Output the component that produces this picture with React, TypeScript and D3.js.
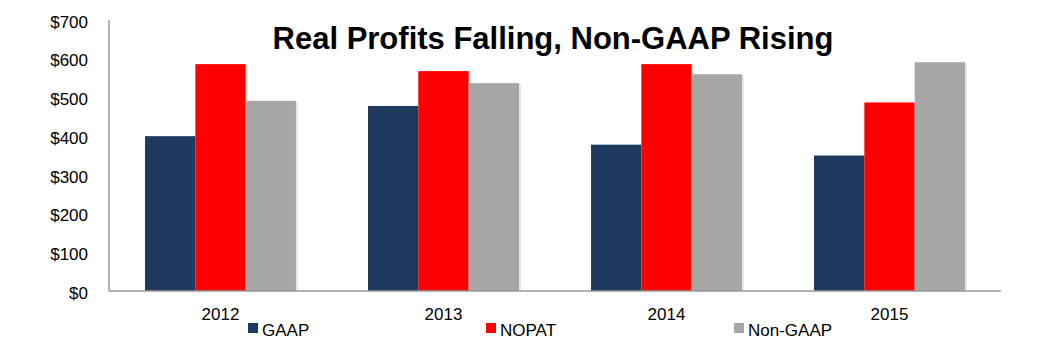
import React, { useRef, useEffect } from "react";
import * as d3 from "d3";

const years = ["2012", "2013", "2014", "2015"];
const seriesNames = ["GAAP", "NOPAT", "Non-GAAP"];
const gaap = [400, 478, 378, 350];
const nopat = [586, 568, 586, 487];
const nonGaap = [491, 537, 560, 591];
const yTicks = [0, 100, 200, 300, 400, 500, 600, 700];

const colors = ["#1F3A5F", "#FF0000", "#A6A6A6"];

const App = () => {
  const chartRef = useRef<SVGSVGElement | null>(null);

  useEffect(() => {
    const width = 1041;
    const height = 353;
    const margin = { top: 20, right: 40, bottom: 62, left: 109 };
    const font = "Liberation Sans, Arial, sans-serif";

    const svg = d3.select(chartRef.current);
    svg.selectAll("*").remove();

    const data = years.map((y, i) => ({
      year: y,
      values: [gaap[i], nopat[i], nonGaap[i]],
    }));

    const x0 = d3
      .scaleBand()
      .domain(years)
      .range([margin.left, width - margin.right])
      .paddingInner(0.323)
      .paddingOuter(0.1615);
    // bars in a group touch each other
    const x1 = d3
      .scaleBand()
      .domain(seriesNames)
      .range([0, x0.bandwidth()]);
    const y = d3
      .scaleLinear()
      .domain([0, 700])
      .range([height - margin.bottom, margin.top]);

    // y tick labels
    svg
      .selectAll(".ytick")
      .data(yTicks)
      .enter()
      .append("text")
      .attr("class", "ytick")
      .attr("x", 88)
      .attr("y", (d) => y(d))
      .attr("dy", "0.45em")
      .attr("text-anchor", "end")
      .attr("font-family", font)
      .attr("font-size", "17px")
      .attr("fill", "#000")
      .text((d) => "$" + d);

    // bars with a soft shadow
    const groups = svg
      .selectAll(".group")
      .data(data)
      .enter()
      .append("g")
      .attr("class", "group")
      .attr("transform", (d) => `translate(${x0(d.year)},0)`);

    groups
      .selectAll(".shadow")
      .data((d) => d.values)
      .enter()
      .append("rect")
      .attr("class", "shadow")
      .attr("x", (d, i) => x1(seriesNames[i])! + 2)
      .attr("y", (d) => y(d) + 1)
      .attr("width", x1.bandwidth())
      .attr("height", (d) => y(0) - y(d) - 1)
      .attr("fill", "#E6E6E6");

    groups
      .selectAll(".bar")
      .data((d) => d.values)
      .enter()
      .append("rect")
      .attr("class", "bar")
      .attr("x", (d, i) => x1(seriesNames[i])!)
      .attr("y", (d) => y(d))
      .attr("width", x1.bandwidth())
      .attr("height", (d) => y(0) - y(d))
      .attr("fill", (d, i) => colors[i]);

    // axes lines
    svg
      .append("line")
      .attr("x1", margin.left)
      .attr("x2", margin.left)
      .attr("y1", y(700))
      .attr("y2", y(0))
      .attr("stroke", "#999")
      .attr("stroke-width", 1.5);
    svg
      .append("line")
      .attr("x1", margin.left)
      .attr("x2", width - margin.right)
      .attr("y1", y(0))
      .attr("y2", y(0))
      .attr("stroke", "#999")
      .attr("stroke-width", 1.5);

    // category labels
    svg
      .selectAll(".xlabel")
      .data(years)
      .enter()
      .append("text")
      .attr("class", "xlabel")
      .attr("x", (d) => x0(d)! + x0.bandwidth() / 2)
      .attr("y", 320)
      .attr("text-anchor", "middle")
      .attr("font-family", font)
      .attr("font-size", "17px")
      .attr("fill", "#000")
      .text((d) => d);

    // legend
    const legendX = [248, 486, 734];
    const legend = svg
      .selectAll(".legend")
      .data(seriesNames)
      .enter()
      .append("g")
      .attr("class", "legend")
      .attr("transform", (d, i) => `translate(${legendX[i]},323)`);
    legend
      .append("rect")
      .attr("width", 10)
      .attr("height", 10)
      .attr("fill", (d, i) => colors[i]);
    legend
      .append("text")
      .attr("x", 14)
      .attr("y", 13)
      .attr("font-family", font)
      .attr("font-size", "17px")
      .attr("fill", "#000")
      .text((d) => d);

    // title
    svg
      .append("text")
      .attr("x", 553)
      .attr("y", 49)
      .attr("text-anchor", "middle")
      .attr("font-family", font)
      .attr("font-size", "31px")
      .attr("font-weight", "bold")
      .attr("fill", "#000")
      .text("Real Profits Falling, Non-GAAP Rising");
  }, []);

  return (
    <svg
      ref={chartRef}
      width={1041}
      height={353}
      style={{ position: "absolute", left: 0, top: 0, background: "#fff" }}
    />
  );
};

export default App;
